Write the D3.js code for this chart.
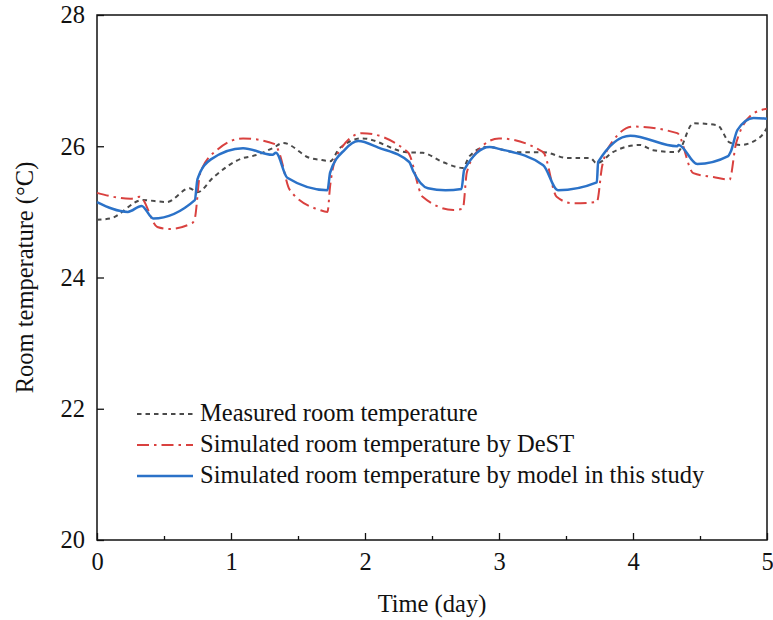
<!DOCTYPE html>
<html>
<head>
<meta charset="utf-8">
<script src="https://cdn.jsdelivr.net/npm/d3@7"></script>
<style>
  body { margin: 0; background: #fff; }
  text { font-family: "Liberation Serif", "DejaVu Serif", serif; fill: #111; }
</style>
</head>
<body>
<div class="container"></div>
<script>
// measured room temperature [day, degC]
let measured = [
  [0, 24.88], [0.1, 24.9], [0.34, 25.18], [0.52, 25.15], [0.69, 25.36], [0.75, 25.3],
  [0.87, 25.53], [1.09, 25.82], [1.16, 25.85], [1.31, 25.97], [1.39, 26.05], [1.59, 25.82],
  [1.68, 25.79], [1.74, 25.77], [1.81, 25.97], [1.98, 26.12], [2.31, 25.91], [2.43, 25.9],
  [2.58, 25.76], [2.73, 25.67], [2.78, 25.85], [2.91, 25.99], [3.13, 25.91], [3.33, 25.91],
  [3.51, 25.82], [3.68, 25.82], [3.73, 25.74], [3.85, 25.91], [4.05, 26.02], [4.15, 25.94],
  [4.33, 25.91], [4.45, 26.35], [4.63, 26.32], [4.72, 26.06], [4.8, 26.02], [4.95, 26.14],
  [5, 26.28]
];

// DeST simulation
let dest = [
  [0, 25.29], [0.25, 25.2], [0.32, 25.23], [0.45, 24.77], [0.54, 24.74], [0.71, 24.83],
  [0.73, 24.9], [0.77, 25.59], [0.9, 25.95], [1.09, 26.12], [1.33, 26.03], [1.36, 25.9],
  [1.44, 25.33], [1.66, 25.03], [1.72, 25.0], [1.74, 25.4], [1.8, 25.9], [1.98, 26.2],
  [2.32, 25.91], [2.43, 25.23], [2.66, 25.03], [2.73, 25.05], [2.76, 25.6], [2.85, 25.95],
  [3.0, 26.12], [3.33, 25.91], [3.43, 25.23], [3.55, 25.13], [3.73, 25.15], [3.77, 25.7],
  [3.85, 26.08], [4.0, 26.3], [4.33, 26.2], [4.45, 25.59], [4.6, 25.53], [4.72, 25.49],
  [4.77, 26.05], [4.9, 26.5], [5, 26.57]
];

// model in this study
let model = [
  [0, 25.15], [0.23, 25.0], [0.333, 25.09], [0.42, 24.9], [0.73, 25.18], [0.75, 25.5],
  [0.85, 25.8], [1.09, 25.97], [1.31, 25.87], [1.335, 25.9], [1.42, 25.52], [1.72, 25.33],
  [1.74, 25.6], [1.85, 25.95], [1.95, 26.08], [2.1, 25.98], [2.33, 25.76], [2.36, 25.62],
  [2.47, 25.36], [2.6, 25.33], [2.72, 25.35], [2.74, 25.64], [2.93, 25.99], [3.0, 25.96],
  [3.33, 25.71], [3.44, 25.33], [3.73, 25.45], [3.74, 25.76], [3.98, 26.16], [4.33, 26.0],
  [4.34, 26.02], [4.48, 25.73], [4.71, 25.85], [4.73, 25.92], [4.78, 26.25], [4.9, 26.43],
  [5, 26.42]
];

let xTicks = [0, 1, 2, 3, 4, 5];
let xMinor = [0.5, 1.5, 2.5, 3.5, 4.5];
let yTicks = [20, 22, 24, 26, 28];
let legendLabels = ["Measured room temperature", "Simulated room temperature by DeST",
  "Simulated room temperature by model in this study"];

let fs = "24.5px";

let margin = {top: 15, right: 6, bottom: 80, left: 97},
  width = 773 - margin.left - margin.right,
  height = 620 - margin.top - margin.bottom;

let svg = d3.select(".container").append("svg")
    .attr("width", 773)
    .attr("height", 620)
  .append("g")
    .attr("transform", "translate(" + margin.left + "," + margin.top + ")");

let x = d3.scaleLinear().domain([0, 5]).range([0, width]);
let y = d3.scaleLinear().domain([20, 28]).range([height, 0]);

// frame
svg.append("rect")
  .attr("width", width).attr("height", height)
  .style("fill", "none").style("stroke", "#111").style("stroke-width", 1.5);

// axes, ticks pointing inward
svg.append("g").attr("transform", "translate(0," + height + ")")
  .call(d3.axisBottom(x).tickValues(xTicks).tickSize(-7).tickPadding(13).tickFormat(d3.format("d")));
svg.append("g").attr("transform", "translate(0," + height + ")")
  .call(d3.axisBottom(x).tickValues(xMinor).tickSize(-4).tickFormat(""));
svg.append("g")
  .call(d3.axisLeft(y).tickValues(yTicks).tickSize(-7).tickPadding(12).tickFormat(d3.format("d")));

svg.selectAll(".domain").remove();
svg.selectAll(".tick line").style("stroke", "#111").style("stroke-width", 1.3);
svg.selectAll(".tick text").style("font-size", fs).style("font-family", "Liberation Serif");

svg.append("text")
  .text("Time (day)")
  .attr("text-anchor", "middle")
  .attr("x", width / 2)
  .attr("y", height + 72)
  .style("font-size", fs);

svg.append("text")
  .text("Room temperature (°C)")
  .attr("text-anchor", "middle")
  .attr("transform", "translate(-64," + (height / 2) + ") rotate(-90)")
  .style("font-size", fs);

let line = d3.line().curve(d3.curveMonotoneX).x(d => x(d[0])).y(d => y(d[1]));

let series = [
  {data: measured, color: "#4a4a4a", dash: "4.5,4", w: 2},
  {data: dest, color: "#d9413f", dash: "12,5,2.5,5", w: 2},
  {data: model, color: "#2b72c8", dash: null, w: 2.5}
];

series.forEach(s => {
  svg.append("path")
    .datum(s.data)
    .attr("d", line)
    .style("fill", "none")
    .style("stroke", s.color)
    .style("stroke-width", s.w)
    .style("stroke-dasharray", s.dash);
});

// legend
let leg = svg.append("g").attr("transform", "translate(40,399)");
series.forEach((s, i) => {
  let ly = i * 31;
  leg.append("line")
    .attr("x1", 0).attr("x2", 56).attr("y1", ly).attr("y2", ly)
    .style("stroke", s.color)
    .style("stroke-width", s.w)
    .style("stroke-dasharray", s.dash);
  leg.append("text")
    .text(legendLabels[i])
    .attr("x", 63).attr("y", ly + 7)
    .style("font-size", fs);
});
</script>
</body>
</html>
